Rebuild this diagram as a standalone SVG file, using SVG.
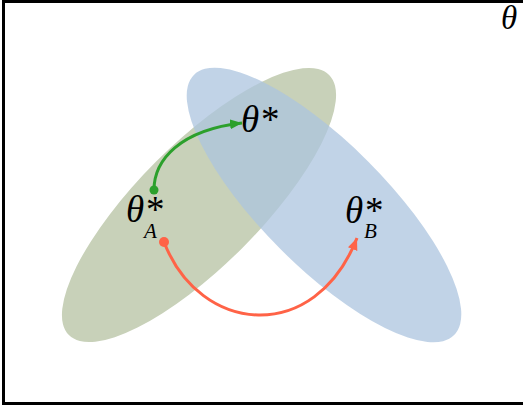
<svg xmlns="http://www.w3.org/2000/svg" width="523" height="406" viewBox="0 0 523 406">
<style>
.lbl{font-family:"Liberation Serif","Times New Roman",serif;font-style:italic;fill:#000}
.big{font-size:37px}
.sub{font-size:21px}
</style>
<defs>
<marker id="ag" markerUnits="userSpaceOnUse" markerWidth="14" markerHeight="12" refX="12" refY="5" orient="auto"><path d="M0,0 L12,5 L0,10 z" fill="#2ca02c"/></marker>
<marker id="ar" markerUnits="userSpaceOnUse" markerWidth="14" markerHeight="12" refX="12" refY="5" orient="auto"><path d="M0,0 L12,5 L0,10 z" fill="#ff6347"/></marker>
</defs>
<rect x="0" y="0" width="523" height="406" fill="#fff"/>
<rect x="3.5" y="1.5" width="600" height="402" fill="none" stroke="#000" stroke-width="3"/>
<g id="regionA"><ellipse cx="199" cy="205" rx="184" ry="61" transform="rotate(-45 199 205)" fill="#c8d1b9"/></g>
<g id="regionB"><ellipse cx="324" cy="205" rx="184" ry="62" transform="rotate(45 324 205)" fill="#acc4df" fill-opacity="0.75"/></g>
<g id="theta"><text class="lbl" x="501" y="29" font-size="33">θ</text></g>
<g id="thetaStar"><text class="lbl big" x="241" y="132">θ*</text></g>
<g id="thetaA"><text class="lbl big" x="126" y="222">θ*</text><text class="lbl sub" x="144" y="238">A</text></g>
<g id="thetaB"><text class="lbl big" x="345" y="223">θ*</text><text class="lbl sub" x="364" y="238">B</text></g>
<g id="connectors">
<path d="M154,190 C154,160 180,130 242,123" fill="none" stroke="#2ca02c" stroke-width="3" marker-end="url(#ag)"/>
<circle cx="154" cy="190" r="4.5" fill="#2ca02c"/>
<path d="M164,242 C200,335 315,345 357,238" fill="none" stroke="#ff6347" stroke-width="3" marker-end="url(#ar)"/>
<circle cx="164" cy="242" r="5" fill="#ff6347"/>
</g>
</svg>
